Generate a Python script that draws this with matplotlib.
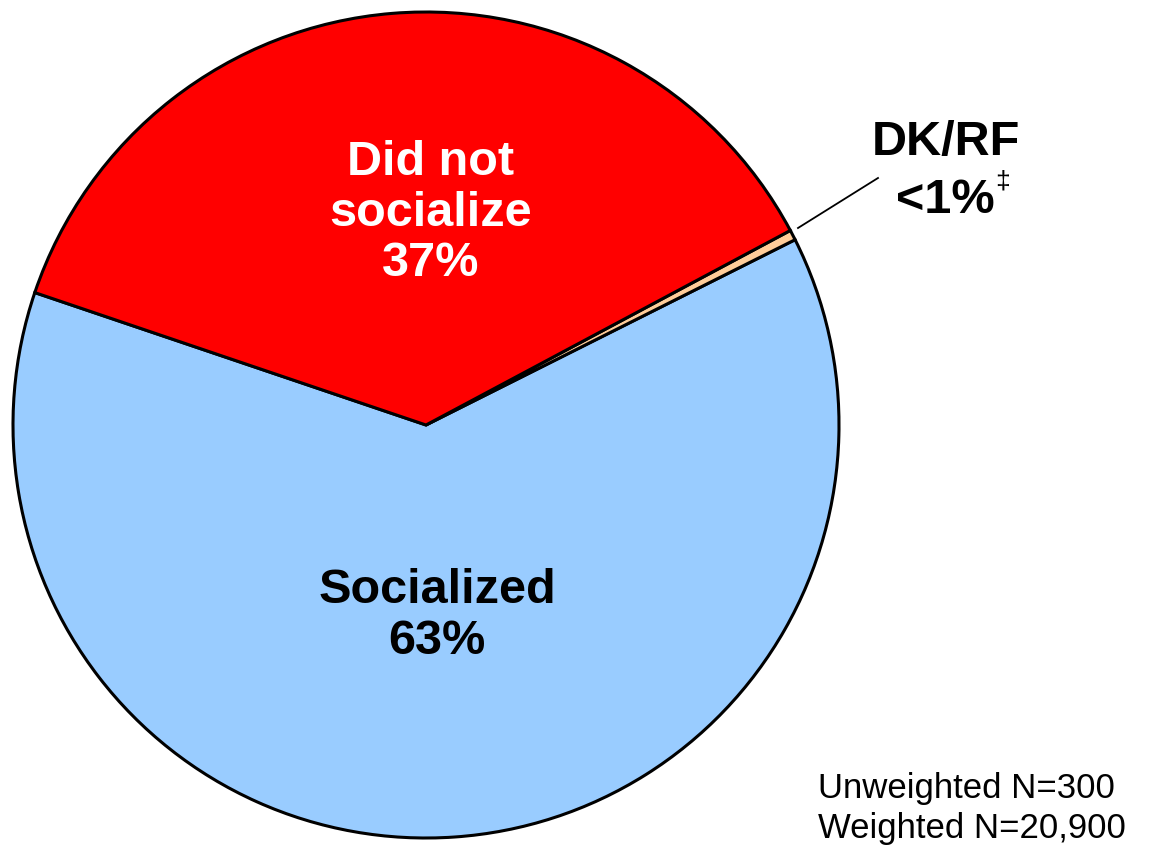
"""
Pie chart of socializing responses
"""

### Import modules
import matplotlib.pyplot as plt

### Data
labels = ['Socialized','DK/RF','Did not socialize']
values = [62.6,0.4,37.0]
shown = ['63%','<1%','37%']
colors = ['#99CCFF','#FFCC99','#FF0000']
notes = ['Unweighted N=300','Weighted N=20,900']

### Set parameters
W,H = 1151,855
cx,cy,rad = 426,H-425,413
plt.rc('font',**{'family':'sans-serif','sans-serif':['Liberation Sans','DejaVu Sans']})

###########################################################################
### Plot pie
fig = plt.figure(figsize=(W/100,H/100),dpi=100)
ax = fig.add_axes([0,0,1,1])

wedges,_ = ax.pie(values,colors=colors,startangle=161.3,counterclock=True,
                  center=(cx,cy),radius=rad,frame=True,
                  wedgeprops=dict(edgecolor='k',linewidth=2.2))
ax.set_axis_off()
ax.set_xlim(0,W)
ax.set_ylim(0,H)
ax.set_aspect('equal')

### Slice labels
ax.text(431,H-213,'Did not\nsocialize\n' + shown[2],color='w',fontsize=35,
        fontweight='bold',ha='center',va='center',linespacing=1.17)
ax.text(437,H-616,'Socialized\n' + shown[0],color='k',fontsize=35,
        fontweight='bold',ha='center',va='center',linespacing=1.17)
ax.text(946,H-155,'DK/RF',color='k',fontsize=35,fontweight='bold',
        ha='center',va='baseline')
ax.text(945,H-213,shown[1],color='k',fontsize=35,fontweight='bold',
        ha='center',va='baseline')
ax.text(1003,H-188,'\u2021',color='k',fontsize=19,ha='center',va='baseline')
ax.plot([798,878],[H-228,H-178],color='k',linewidth=1.3)

### Sample sizes
ax.text(818,H-798,notes[0],fontsize=25,ha='left',va='baseline')
ax.text(818,H-838,notes[1],fontsize=25,ha='left',va='baseline')

plt.savefig('out.png',dpi=100)
